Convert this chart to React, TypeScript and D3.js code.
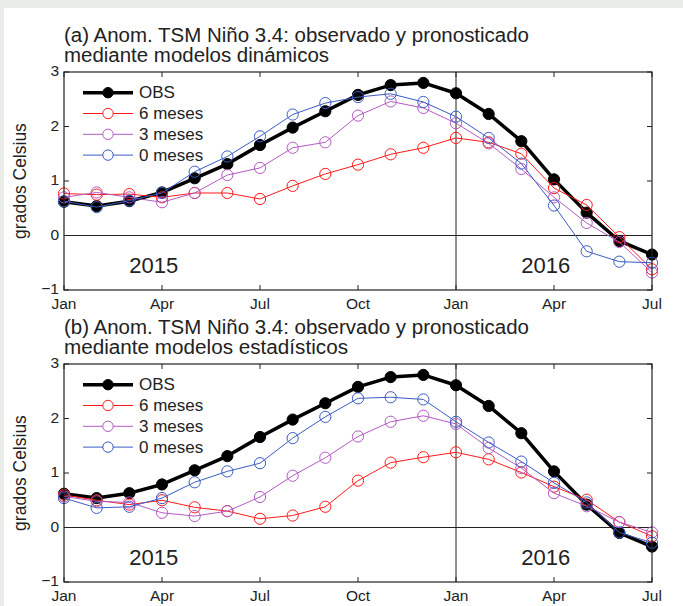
import React from "react";
import * as d3 from "d3";

// months from Jan 2015 to Jul 2016 (index 0..18)
const months = d3.range(19);
const tickMonths = [0, 3, 6, 9, 12, 15, 18];
const tickLabels = ["Jan", "Apr", "Jul", "Oct", "Jan", "Apr", "Jul"];
const yTicks = [-1, 0, 1, 2, 3];

const obs = [0.62, 0.54, 0.63, 0.79, 1.05, 1.31, 1.66, 1.98, 2.28, 2.58, 2.76, 2.8, 2.61, 2.23, 1.73, 1.03, 0.42, -0.1, -0.35];

// dynamic models
const dyn6 = [0.77, 0.75, 0.76, 0.7, 0.78, 0.78, 0.67, 0.91, 1.13, 1.3, 1.49, 1.61, 1.79, 1.71, 1.5, 0.87, 0.56, -0.03, -0.62];
const dyn3 = [0.7, 0.79, 0.7, 0.61, 0.78, 1.11, 1.24, 1.61, 1.71, 2.2, 2.46, 2.34, 2.06, 1.69, 1.22, 0.7, 0.23, -0.12, -0.68];
const dyn0 = [0.63, 0.52, 0.64, 0.78, 1.17, 1.45, 1.82, 2.22, 2.43, 2.54, 2.6, 2.45, 2.18, 1.79, 1.32, 0.55, -0.29, -0.48, -0.5];

// statistical models
const est6 = [0.6, 0.5, 0.42, 0.5, 0.37, 0.3, 0.16, 0.22, 0.38, 0.86, 1.19, 1.29, 1.38, 1.25, 1.01, 0.75, 0.51, 0.1, -0.16];
const est3 = [0.57, 0.48, 0.46, 0.27, 0.21, 0.3, 0.56, 0.95, 1.28, 1.67, 1.94, 2.05, 1.9, 1.46, 1.09, 0.63, 0.39, 0.1, -0.09];
const est0 = [0.54, 0.36, 0.38, 0.54, 0.83, 1.03, 1.18, 1.64, 2.03, 2.37, 2.39, 2.35, 1.94, 1.56, 1.21, 0.82, 0.46, -0.09, -0.28];

const seriesNames = ["OBS", "6 meses", "3 meses", "0 meses"];
const seriesColors = ["#000000", "#ff1a1a", "#b45ac4", "#3a5cc4"];

const FONT = "'Liberation Sans', Arial, Helvetica, sans-serif";

const x = d3.scaleLinear().domain([0, 18]).range([64, 652]);

type PanelProps = {
  top: number;
  title1: string;
  title2: string;
  len2: number;
  data: number[][];
};

const Panel = ({ top, title1, title2, len2, data }: PanelProps) => {
  const y = d3.scaleLinear().domain([-1, 3]).range([top + 218, top]);
  const line = d3
    .line<number>()
    .x((d, i) => x(months[i]))
    .y((d) => y(d));
  const [x0, x1] = x.range();
  const [yb, yt] = y.range();
  const tl = 5;

  return (
    <g>
      <text
        x={64}
        y={top - 30}
        fontSize={19.5}
        fontFamily={FONT}
        fill="#222"
        textLength={465}
        lengthAdjust="spacingAndGlyphs"
      >
        {title1}
      </text>
      <text
        x={64}
        y={top - 10}
        fontSize={19.5}
        fontFamily={FONT}
        fill="#222"
        textLength={len2}
        lengthAdjust="spacingAndGlyphs"
      >
        {title2}
      </text>
      <text
        transform={`translate(26,${(yb + yt) / 2}) rotate(-90)`}
        textAnchor="middle"
        fontSize={17.5}
        fontFamily={FONT}
        fill="#222"
      >
        grados Celsius
      </text>

      {/* reference lines */}
      <line x1={x0} x2={x1} y1={y(0)} y2={y(0)} stroke="#222" strokeWidth={1} />
      <line x1={x(12)} x2={x(12)} y1={yt} y2={yb} stroke="#222" strokeWidth={1} />

      {/* ticks */}
      {tickMonths.map((m, i) => (
        <g key={"xt" + i}>
          <line x1={x(m)} x2={x(m)} y1={yb} y2={yb - tl} stroke="#222" />
          <line x1={x(m)} x2={x(m)} y1={yt} y2={yt + tl} stroke="#222" />
          <text
            x={x(m)}
            y={yb + 15}
            textAnchor="middle"
            dominantBaseline="middle"
            fontSize={15.5}
            fontFamily={FONT}
            fill="#222"
          >
            {tickLabels[i]}
          </text>
        </g>
      ))}
      {yTicks.map((v) => (
        <g key={"yt" + v}>
          <line x1={x0} x2={x0 + tl} y1={y(v)} y2={y(v)} stroke="#222" />
          <line x1={x1} x2={x1 - tl} y1={y(v)} y2={y(v)} stroke="#222" />
          <text
            x={x0 - 5}
            y={y(v)}
            textAnchor="end"
            dominantBaseline="middle"
            fontSize={15.5}
            fontFamily={FONT}
            fill="#222"
          >
            {v < 0 ? "\u2212" + Math.abs(v) : v}
          </text>
        </g>
      ))}

      <text x={x(2.75)} y={y(-0.68)} textAnchor="middle" fontSize={22} fontFamily={FONT} fill="#222">
        2015
      </text>
      <text x={x(14.75)} y={y(-0.68)} textAnchor="middle" fontSize={22} fontFamily={FONT} fill="#222">
        2016
      </text>

      {/* series */}
      {data.map((vals, s) => (
        <g key={"s" + s}>
          <path
            d={line(vals) || ""}
            fill="none"
            stroke={seriesColors[s]}
            strokeWidth={s === 0 ? 3.5 : 1}
            strokeLinejoin="round"
          />
          {vals.map((v, i) => (
            <circle
              key={i}
              cx={x(months[i])}
              cy={y(v)}
              r={5.6}
              fill={s === 0 ? "#000" : "none"}
              stroke={seriesColors[s]}
              strokeWidth={1}
            />
          ))}
        </g>
      ))}

      {/* legend */}
      {seriesNames.map((name, s) => {
        const ly = top + 20.7 + s * 20.8;
        return (
          <g key={"lg" + s}>
            <line
              x1={83}
              x2={133}
              y1={ly}
              y2={ly}
              stroke={seriesColors[s]}
              strokeWidth={s === 0 ? 3.5 : 1}
            />
            <circle
              cx={108}
              cy={ly}
              r={5.2}
              fill={s === 0 ? "#000" : "#fff"}
              stroke={seriesColors[s]}
            />
            <text
              x={139}
              y={ly + 1}
              dominantBaseline="middle"
              fontSize={17}
              fontFamily={FONT}
              fill="#222"
            >
              {name}
            </text>
          </g>
        );
      })}

      {/* axes box */}
      <rect x={x0} y={yt} width={x1 - x0} height={yb - yt} fill="none" stroke="#222" strokeWidth={1.2} />
    </g>
  );
};

export default function App() {
  return (
    <svg
      width={683}
      height={606}
      style={{ position: "absolute", left: 0, top: 0, display: "block" }}
    >
      <rect x={0} y={0} width={683} height={606} fill="#e9ece6" />
      <rect x={4} y={8} width={679} height={598} fill="#ffffff" />
      <Panel
        top={72}
        title1="(a) Anom. TSM Niño 3.4: observado y pronosticado"
        title2="mediante modelos dinámicos"
        len2={265}
        data={[obs, dyn6, dyn3, dyn0]}
      />
      <Panel
        top={364}
        title1="(b) Anom. TSM Niño 3.4: observado y pronosticado"
        title2="mediante modelos estadísticos"
        len2={284}
        data={[obs, est6, est3, est0]}
      />
    </svg>
  );
}
